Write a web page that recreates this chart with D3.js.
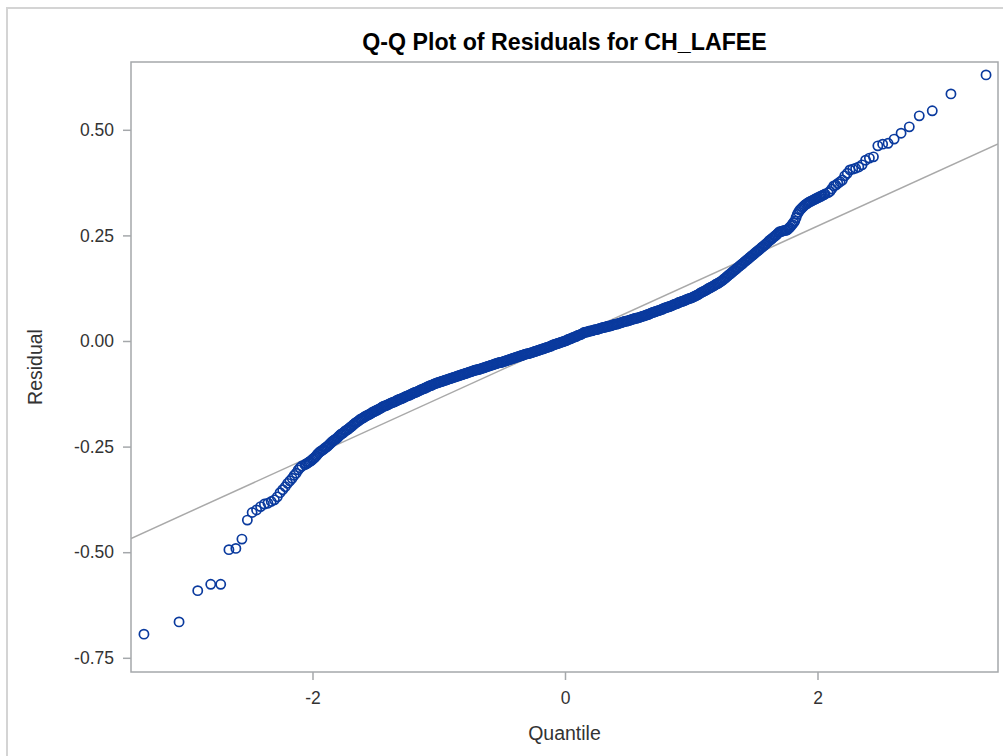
<!DOCTYPE html>
<html>
<head>
<meta charset="utf-8">
<script src="https://cdn.jsdelivr.net/npm/d3@7"></script>
<style>
  html, body { margin: 0; padding: 0; background: #fff; }
  svg { display: block; }
</style>
</head>
<body>
<svg id="chart" width="1003" height="756"></svg>
<script>
// ---------------- data ----------------
const chartTitle = "Q-Q Plot of Residuals for CH_LAFEE";
const xAxisTitle = "Quantile";
const yAxisTitle = "Residual";

const xTickValues = [-2, 0, 2];
const xTickLabels = ["-2", "0", "2"];
const yTickValues = [-0.75, -0.5, -0.25, 0, 0.25, 0.5];
const yTickLabels = ["-0.75", "-0.50", "-0.25", "0.00", "0.25", "0.50"];

// reference line: residual = intercept + slope * quantile
const refIntercept = 0.0;
const refSlope = 0.136;

// lower tail [quantile, residual]
const lowerTail = [
  [-3.335,-0.694],[-3.057,-0.665],[-2.909,-0.591],[-2.806,-0.576],[-2.727,-0.576],
  [-2.662,-0.494],[-2.607,-0.491],[-2.559,-0.469],[-2.516,-0.424],[-2.478,-0.406],
  [-2.443,-0.400],[-2.411,-0.392],[-2.381,-0.386],[-2.353,-0.384],[-2.327,-0.380],
  [-2.302,-0.376],[-2.279,-0.369],[-2.257,-0.359],[-2.236,-0.352],[-2.216,-0.345],
  [-2.197,-0.337],[-2.179,-0.331],[-2.161,-0.325],[-2.145,-0.318],[-2.129,-0.313],
  [-2.113,-0.305],[-2.098,-0.300],[-2.084,-0.296]
];

// dense central band, even hundredths [quantile, residual]
const centralBand = [
  [-2.06,-0.293],[-2.04,-0.289],[-2.02,-0.285],[-2.00,-0.280],[-1.98,-0.275],[-1.96,-0.268],
  [-1.94,-0.262],[-1.92,-0.258],[-1.90,-0.253],[-1.88,-0.249],[-1.86,-0.243],[-1.84,-0.237],
  [-1.82,-0.233],[-1.80,-0.228],[-1.78,-0.222],[-1.76,-0.218],[-1.74,-0.213],[-1.72,-0.209],
  [-1.70,-0.204],[-1.68,-0.199],[-1.66,-0.194],[-1.64,-0.190],[-1.62,-0.185],[-1.60,-0.182],
  [-1.58,-0.178],[-1.56,-0.175],[-1.54,-0.172],[-1.52,-0.168],[-1.50,-0.165],[-1.48,-0.162],
  [-1.46,-0.159],[-1.44,-0.155],[-1.42,-0.153],[-1.40,-0.150],[-1.38,-0.147],[-1.36,-0.145],
  [-1.34,-0.142],[-1.32,-0.139],[-1.30,-0.137],[-1.28,-0.134],[-1.26,-0.131],[-1.24,-0.129],
  [-1.22,-0.126],[-1.20,-0.123],[-1.18,-0.121],[-1.16,-0.118],[-1.14,-0.115],[-1.12,-0.113],
  [-1.10,-0.110],[-1.08,-0.107],[-1.06,-0.105],[-1.04,-0.102],[-1.02,-0.100],[-1.00,-0.098],
  [-0.98,-0.096],[-0.96,-0.094],[-0.94,-0.092],[-0.92,-0.090],[-0.90,-0.088],[-0.88,-0.086],
  [-0.86,-0.084],[-0.84,-0.082],[-0.82,-0.080],[-0.80,-0.078],[-0.78,-0.076],[-0.76,-0.074],
  [-0.74,-0.072],[-0.72,-0.070],[-0.70,-0.068],[-0.68,-0.067],[-0.66,-0.065],[-0.64,-0.063],
  [-0.62,-0.061],[-0.60,-0.059],[-0.58,-0.057],[-0.56,-0.055],[-0.54,-0.053],[-0.52,-0.051],
  [-0.50,-0.050],[-0.48,-0.048],[-0.46,-0.046],[-0.44,-0.044],[-0.42,-0.042],[-0.40,-0.040],
  [-0.38,-0.038],[-0.36,-0.036],[-0.34,-0.034],[-0.32,-0.032],[-0.30,-0.030],[-0.28,-0.029],
  [-0.26,-0.027],[-0.24,-0.025],[-0.22,-0.023],[-0.20,-0.021],[-0.18,-0.019],[-0.16,-0.017],
  [-0.14,-0.015],[-0.12,-0.013],[-0.10,-0.010],[-0.08,-0.008],[-0.06,-0.006],[-0.04,-0.004],
  [-0.02,-0.002],[0.00,0.000],[0.02,0.003],[0.04,0.005],[0.06,0.008],[0.08,0.010],
  [0.10,0.013],[0.12,0.015],[0.14,0.018],[0.16,0.021],[0.18,0.022],[0.20,0.024],
  [0.22,0.025],[0.24,0.027],[0.26,0.028],[0.28,0.030],[0.30,0.032],[0.32,0.033],
  [0.34,0.035],[0.36,0.036],[0.38,0.038],[0.40,0.040],[0.42,0.041],[0.44,0.043],
  [0.46,0.045],[0.48,0.047],[0.50,0.048],[0.52,0.050],[0.54,0.052],[0.56,0.054],
  [0.58,0.055],[0.60,0.057],[0.62,0.059],[0.64,0.061],[0.66,0.063],[0.68,0.066],
  [0.70,0.068],[0.72,0.070],[0.74,0.072],[0.76,0.074],[0.78,0.077],[0.80,0.079],
  [0.82,0.081],[0.84,0.083],[0.86,0.086],[0.88,0.088],[0.90,0.091],[0.92,0.093],
  [0.94,0.095],[0.96,0.098],[0.98,0.100],[1.00,0.102],[1.02,0.105],[1.04,0.108],
  [1.06,0.111],[1.08,0.115],[1.10,0.118],[1.12,0.121],[1.14,0.125],[1.16,0.128],
  [1.18,0.131],[1.20,0.135],[1.22,0.138],[1.24,0.142],[1.26,0.147],[1.28,0.152],
  [1.30,0.157],[1.32,0.162],[1.34,0.167],[1.36,0.172],[1.38,0.177],[1.40,0.182],
  [1.42,0.187],[1.44,0.192],[1.46,0.197],[1.48,0.202],[1.50,0.207],[1.52,0.212],
  [1.54,0.217],[1.56,0.222],[1.58,0.227],[1.60,0.232],[1.62,0.238],[1.64,0.243],
  [1.66,0.248],[1.68,0.253],[1.70,0.259],[1.72,0.260],[1.74,0.262],[1.76,0.263],
  [1.78,0.269],[1.80,0.276],[1.82,0.284],[1.84,0.300],[1.86,0.310],[1.88,0.316],
  [1.90,0.322],[1.92,0.326],[1.94,0.330],[1.96,0.333],[1.98,0.336],[2.00,0.339],
  [2.02,0.342],[2.04,0.345],[2.06,0.348]
];

// dense central band, odd hundredths [quantile, residual]
const centralBandOdd = [
  [-2.05,-0.291],[-2.03,-0.287],[-2.01,-0.283],[-1.99,-0.278],[-1.97,-0.272],[-1.95,-0.265],
  [-1.93,-0.260],[-1.91,-0.256],[-1.89,-0.251],[-1.87,-0.246],[-1.85,-0.240],[-1.83,-0.235],
  [-1.81,-0.231],[-1.79,-0.225],[-1.77,-0.220],[-1.75,-0.216],[-1.73,-0.211],[-1.71,-0.207],
  [-1.69,-0.202],[-1.67,-0.197],[-1.65,-0.192],[-1.63,-0.188],[-1.61,-0.184],[-1.59,-0.180],
  [-1.57,-0.177],[-1.55,-0.174],[-1.53,-0.170],[-1.51,-0.167],[-1.49,-0.164],[-1.47,-0.161],
  [-1.45,-0.157],[-1.43,-0.154],[-1.41,-0.152],[-1.39,-0.149],[-1.37,-0.146],[-1.35,-0.144],
  [-1.33,-0.141],[-1.31,-0.138],[-1.29,-0.136],[-1.27,-0.133],[-1.25,-0.130],[-1.23,-0.128],
  [-1.21,-0.125],[-1.19,-0.122],[-1.17,-0.120],[-1.15,-0.117],[-1.13,-0.114],[-1.11,-0.112],
  [-1.09,-0.109],[-1.07,-0.106],[-1.05,-0.104],[-1.03,-0.101],[-1.01,-0.099],[-0.99,-0.097],
  [-0.97,-0.095],[-0.95,-0.093],[-0.93,-0.091],[-0.91,-0.089],[-0.89,-0.087],[-0.87,-0.085],
  [-0.85,-0.083],[-0.83,-0.081],[-0.81,-0.079],[-0.79,-0.077],[-0.77,-0.075],[-0.75,-0.073],
  [-0.73,-0.071],[-0.71,-0.069],[-0.69,-0.068],[-0.67,-0.066],[-0.65,-0.064],[-0.63,-0.062],
  [-0.61,-0.060],[-0.59,-0.058],[-0.57,-0.056],[-0.55,-0.054],[-0.53,-0.052],[-0.51,-0.051],
  [-0.49,-0.049],[-0.47,-0.047],[-0.45,-0.045],[-0.43,-0.043],[-0.41,-0.041],[-0.39,-0.039],
  [-0.37,-0.037],[-0.35,-0.035],[-0.33,-0.033],[-0.31,-0.031],[-0.29,-0.030],[-0.27,-0.028],
  [-0.25,-0.026],[-0.23,-0.024],[-0.21,-0.022],[-0.19,-0.020],[-0.17,-0.018],[-0.15,-0.016],
  [-0.13,-0.014],[-0.11,-0.012],[-0.09,-0.009],[-0.07,-0.007],[-0.05,-0.005],[-0.03,-0.003],
  [-0.01,-0.001],[0.01,0.001],[0.03,0.004],[0.05,0.006],[0.07,0.009],[0.09,0.011],
  [0.11,0.014],[0.13,0.016],[0.15,0.020],[0.17,0.021],[0.19,0.023],[0.21,0.024],
  [0.23,0.026],[0.25,0.027],[0.27,0.029],[0.29,0.031],[0.31,0.032],[0.33,0.034],
  [0.35,0.035],[0.37,0.037],[0.39,0.039],[0.41,0.040],[0.43,0.042],[0.45,0.044],
  [0.47,0.046],[0.49,0.047],[0.51,0.049],[0.53,0.051],[0.55,0.053],[0.57,0.054],
  [0.59,0.056],[0.61,0.058],[0.63,0.060],[0.65,0.062],[0.67,0.064],[0.69,0.067],
  [0.71,0.069],[0.73,0.071],[0.75,0.073],[0.77,0.075],[0.79,0.078],[0.81,0.080],
  [0.83,0.082],[0.85,0.084],[0.87,0.087],[0.89,0.089],[0.91,0.092],[0.93,0.094],
  [0.95,0.096],[0.97,0.099],[0.99,0.101],[1.01,0.103],[1.03,0.106],[1.05,0.109],
  [1.07,0.113],[1.09,0.116],[1.11,0.119],[1.13,0.123],[1.15,0.126],[1.17,0.129],
  [1.19,0.133],[1.21,0.136],[1.23,0.140],[1.25,0.144],[1.27,0.149],[1.29,0.154],
  [1.31,0.159],[1.33,0.164],[1.35,0.169],[1.37,0.174],[1.39,0.179],[1.41,0.184],
  [1.43,0.189],[1.45,0.194],[1.47,0.199],[1.49,0.204],[1.51,0.209],[1.53,0.214],
  [1.55,0.219],[1.57,0.224],[1.59,0.229],[1.61,0.235],[1.63,0.240],[1.65,0.245],
  [1.67,0.250],[1.69,0.256],[1.71,0.259],[1.73,0.261],[1.75,0.262],[1.77,0.266],
  [1.79,0.272],[1.81,0.280],[1.83,0.292],[1.85,0.305],[1.87,0.313],[1.89,0.319],
  [1.91,0.324],[1.93,0.328],[1.95,0.331],[1.97,0.334],[1.99,0.337],[2.01,0.340],
  [2.03,0.343],[2.05,0.346]
];

// upper tail [quantile, residual]
const upperTail = [
  [2.084,0.351],[2.098,0.354],[2.113,0.360],[2.129,0.367],[2.145,0.369],[2.161,0.373],
  [2.179,0.377],[2.197,0.381],[2.216,0.391],[2.236,0.397],[2.257,0.405],[2.279,0.407],
  [2.302,0.409],[2.327,0.412],[2.353,0.417],[2.381,0.428],[2.411,0.433],[2.443,0.436],
  [2.478,0.462],[2.516,0.466],[2.559,0.468],[2.607,0.478],[2.662,0.492],[2.727,0.507],
  [2.806,0.533],[2.909,0.545],[3.057,0.585],[3.335,0.630]
];

// ---------------- drawing ----------------
const points = lowerTail.concat(centralBand, centralBandOdd, upperTail)
  .sort((a, b) => a[0] - b[0]);
const svg = d3.select("#chart");
const W = 1003, H = 756;
const plot = { left: 131, right: 998, top: 62, bottom: 672 };

const x = d3.scaleLinear().domain([-3.4376, 3.4297]).range([plot.left, plot.right]);
const y = d3.scaleLinear().domain([-0.7836, 0.6605]).range([plot.bottom, plot.top]);

const fontFam = "'Liberation Sans', Arial, Helvetica, sans-serif";

// outer frame
svg.append("rect").attr("x", 7).attr("y", 8).attr("width", W + 20).attr("height", H + 20)
  .attr("fill", "#fff").attr("stroke", "#d4d4d4").attr("stroke-width", 2);

// title
svg.append("text").attr("x", (plot.left + plot.right) / 2).attr("y", 50)
  .attr("text-anchor", "middle").attr("font-family", fontFam)
  .attr("font-weight", "bold").attr("font-size", 23.2).attr("fill", "#000")
  .text(chartTitle);

svg.append("defs").append("clipPath").attr("id", "clip")
  .append("rect").attr("x", plot.left).attr("y", plot.top)
  .attr("width", plot.right - plot.left).attr("height", plot.bottom - plot.top);

// reference line
const xd = x.domain();
svg.append("line").attr("clip-path", "url(#clip)")
  .attr("x1", x(xd[0])).attr("y1", y(refIntercept + refSlope * xd[0]))
  .attr("x2", x(xd[1])).attr("y2", y(refIntercept + refSlope * xd[1]))
  .attr("stroke", "#a9a9a9").attr("stroke-width", 1.5);

// points
svg.append("g").selectAll("circle").data(points).join("circle")
  .attr("cx", d => x(d[0])).attr("cy", d => y(d[1])).attr("r", 4.6)
  .attr("fill", "none").attr("stroke", "#0a3a9e").attr("stroke-width", 1.7);

// frame
svg.append("rect").attr("x", plot.left).attr("y", plot.top)
  .attr("width", plot.right - plot.left).attr("height", plot.bottom - plot.top)
  .attr("fill", "none").attr("stroke", "#a5a8ab").attr("stroke-width", 1.5);

// axes
const xAxis = d3.axisBottom(x).tickValues(xTickValues)
  .tickFormat((d, i) => xTickLabels[i]).tickSize(8).tickPadding(12).tickSizeOuter(0);
const gx = svg.append("g").attr("transform", `translate(0,${plot.bottom})`).call(xAxis);
const yAxis = d3.axisLeft(y).tickValues(yTickValues)
  .tickFormat((d, i) => yTickLabels[i]).tickSize(8).tickPadding(9).tickSizeOuter(0);
const gy = svg.append("g").attr("transform", `translate(${plot.left},0)`).call(yAxis);

[gx, gy].forEach(g => {
  g.select(".domain").remove();
  g.selectAll(".tick line").attr("stroke", "#a5a8ab").attr("stroke-width", 1.5);
  g.selectAll(".tick text").attr("font-family", fontFam).attr("font-size", 17.5).attr("fill", "#333");
});

// axis titles
svg.append("text").attr("x", (plot.left + plot.right) / 2).attr("y", 740)
  .attr("text-anchor", "middle").attr("font-family", fontFam).attr("font-size", 19.5)
  .attr("fill", "#333").text(xAxisTitle);
svg.append("text").attr("transform", `translate(42,${(plot.top + plot.bottom) / 2}) rotate(-90)`)
  .attr("text-anchor", "middle").attr("font-family", fontFam).attr("font-size", 19.5)
  .attr("fill", "#333").text(yAxisTitle);
</script>
</body>
</html>
